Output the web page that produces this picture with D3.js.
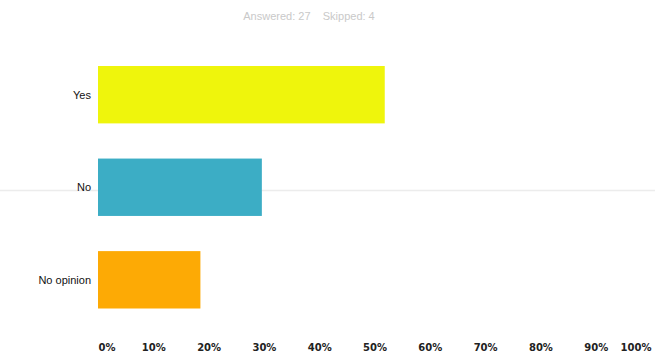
<!DOCTYPE html>
<html>
<head>
<meta charset="utf-8">
<script src="https://cdn.jsdelivr.net/npm/d3@7/dist/d3.min.js"></script>
<style>
  html, body { margin: 0; padding: 0; background: #fff; }
  svg { display: block; }
</style>
</head>
<body>
<div id="chart"></div>
<script>
// Survey responses (27 answered)
const categories = ["Yes", "No", "No opinion"];
const counts = [14, 8, 5];
const answered = 27;
const skipped = 4;
const percents = counts.map(c => c / answered * 100);
const tickValues = [0, 10, 20, 30, 40, 50, 60, 70, 80, 90, 100];
const barColors = ["#eff50c", "#3cadc5", "#fdaa05"];

const width = 655, height = 356;
const svg = d3.select("#chart").append("svg")
  .attr("width", width).attr("height", height);

const x = d3.scaleLinear().domain([0, 100]).range([98, 651]);
const y = d3.scaleBand().domain(categories).range([66, 308.5]).paddingInner(0.38).paddingOuter(0);

// Header
svg.append("text")
  .attr("x", 309).attr("y", 20)
  .attr("text-anchor", "middle")
  .attr("font-family", "Liberation Sans, Arial, sans-serif")
  .attr("font-size", 11)
  .attr("fill", "#c9c9c9")
  .attr("xml:space", "preserve")
  .text(`Answered: ${answered}    Skipped: ${skipped}`);

// faint rule across the middle row
svg.append("line")
  .attr("x1", 0).attr("x2", width)
  .attr("y1", 190.5).attr("y2", 190.5)
  .attr("stroke", "#ececec").attr("stroke-width", 1.5);

// Bars
svg.selectAll("rect.bar")
  .data(categories)
  .join("rect")
  .attr("class", "bar")
  .attr("x", x(0))
  .attr("y", d => y(d))
  .attr("width", (d, i) => x(percents[i]) - x(0))
  .attr("height", y.bandwidth())
  .attr("fill", (d, i) => barColors[i]);

// Category labels
svg.selectAll("text.cat")
  .data(categories)
  .join("text")
  .attr("class", "cat")
  .attr("x", 91)
  .attr("y", d => y(d) + y.bandwidth() / 2)
  .attr("dy", "0.35em")
  .attr("text-anchor", "end")
  .attr("font-family", "Liberation Sans, Arial, sans-serif")
  .attr("font-size", 11)
  .attr("fill", "#111")
  .text(d => d);

// X axis tick labels
const axis = d3.axisBottom(x)
  .tickValues(tickValues)
  .tickSize(0)
  .tickPadding(0)
  .tickFormat(d => d + "%");
const gx = svg.append("g").attr("transform", "translate(0,344)").call(axis);
gx.select(".domain").remove();
gx.selectAll("text")
  .attr("font-family", "DejaVu Sans, sans-serif")
  .attr("font-size", 10)
  .attr("font-weight", "bold")
  .attr("fill", "#222")
  .attr("text-anchor", (d, i) => i === 0 ? "start" : (i === tickValues.length - 1 ? "end" : "middle"));
</script>
</body>
</html>
